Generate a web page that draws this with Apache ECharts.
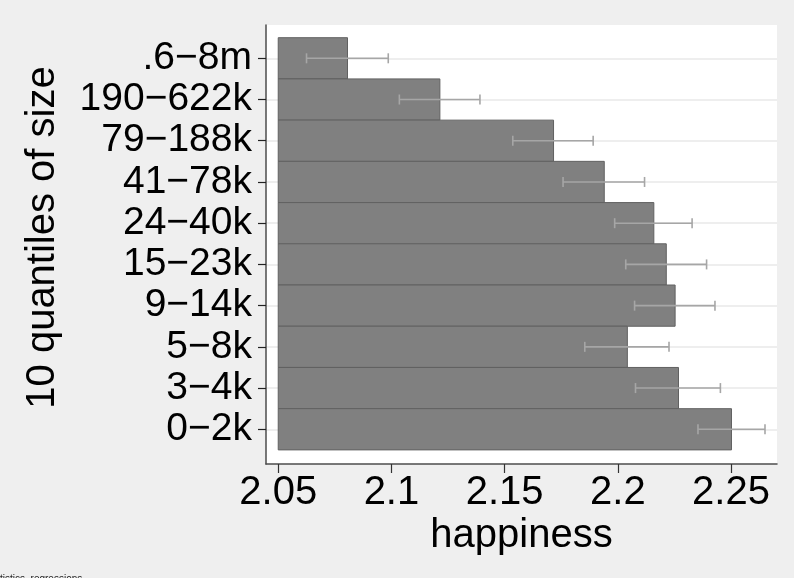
<!DOCTYPE html>
<html>
<head>
<meta charset="utf-8">
<script src="https://cdn.jsdelivr.net/npm/echarts@6/dist/echarts.min.js"></script>
<style>
html,body{margin:0;padding:0;background:#efefef;}
#chart{width:794px;height:578px;}
</style>
</head>
<body>
<div id="chart"></div>
<script>
// Categories, top to bottom as shown
const categories = ['.6\u22128m','190\u2212622k','79\u2212188k','41\u221278k','24\u221240k','15\u221223k','9\u221214k','5\u22128k','3\u22124k','0\u22122k'];
// Mean happiness per category
const means = [2.0806, 2.1214, 2.1716, 2.1940, 2.2159, 2.2214, 2.2253, 2.2042, 2.2268, 2.2502];
// Confidence interval bounds
const lower = [2.0625, 2.1035, 2.1536, 2.1758, 2.1986, 2.2035, 2.2074, 2.1854, 2.2078, 2.2354];
const upper = [2.0986, 2.1391, 2.1891, 2.2118, 2.2328, 2.2392, 2.2429, 2.2226, 2.2453, 2.2650];
// x tick labels
const xTicks = [2.05, 2.1, 2.15, 2.2, 2.25];
const barBase = 2.05;

const n = categories.length;
const pos = categories.map((c, k) => n - 1 - k); // vertical position index (0 = bottom)
const yTicks = pos.slice().sort((a, b) => a - b);

const barData = means.map((m, k) => [barBase, m, pos[k]]);
const errData = lower.map((l, k) => [l, upper[k], pos[k]]);

const chart = echarts.init(document.getElementById('chart'), null, {renderer: 'canvas'});
const FONT = '"Liberation Sans", Arial, Helvetica, sans-serif';

chart.setOption({
  backgroundColor: '#efefef',
  animation: false,
  textStyle: {fontFamily: FONT},
  grid: {
    left: 266, top: 25, width: 511, height: 439,
    show: true, backgroundColor: '#ffffff', borderWidth: 0,
    outerBoundsMode: 'none'
  },
  xAxis: {
    type: 'value',
    min: 2.0446, max: 2.2703,
    name: 'happiness',
    nameLocation: 'middle',
    nameGap: 52,
    nameMoveOverlap: false,
    nameTextStyle: {fontSize: 40, color: '#000', fontFamily: FONT},
    axisLine: {show: true, onZero: false, lineStyle: {color: '#4d4d4d', width: 1.5}},
    axisTick: {show: true, length: 9, customValues: xTicks, lineStyle: {color: '#333', width: 1.2}},
    axisLabel: {customValues: xTicks, fontSize: 40, color: '#000', margin: 9, fontFamily: FONT,
      formatter: v => String(v)},
    splitLine: {show: false}
  },
  yAxis: {
    type: 'value',
    min: -0.842, max: 9.808,
    name: '10 quantiles of size',
    nameLocation: 'middle',
    nameRotate: 90,
    nameGap: 203,
    nameMoveOverlap: false,
    nameTextStyle: {fontSize: 40, color: '#000', fontFamily: FONT, padding: [0, 0, 0, 14]},
    axisLine: {show: true, onZero: false, lineStyle: {color: '#4d4d4d', width: 1.5}},
    axisTick: {show: true, length: 8, customValues: yTicks, lineStyle: {color: '#222', width: 1.2}},
    axisLabel: {customValues: yTicks, fontSize: 39, color: '#000', margin: 14, fontFamily: FONT,
      formatter: v => categories[n - 1 - Math.round(v)]},
    splitLine: {show: true, lineStyle: {color: '#e8e8e8', width: 1.5}}
  },
  series: [
    {
      type: 'custom',
      name: 'bars',
      data: barData,
      encode: {x: [0, 1], y: 2},
      renderItem: function (params, api) {
        const y = api.value(2);
        const p0 = api.coord([api.value(0), y]);
        const p1 = api.coord([api.value(1), y]);
        const h = api.size([0, 1])[1];
        return {
          type: 'rect',
          shape: {x: p0[0], y: p0[1] - h / 2, width: p1[0] - p0[0], height: h},
          style: {fill: '#808080', stroke: '#616161', lineWidth: 1}
        };
      },
      z: 2
    },
    {
      type: 'custom',
      name: 'ci',
      data: errData,
      encode: {x: [0, 1], y: 2},
      renderItem: function (params, api) {
        const y = api.value(2);
        const a = api.coord([api.value(0), y]);
        const b = api.coord([api.value(1), y]);
        const c = 5;
        const st = {stroke: '#a6a6a6', lineWidth: 1.6};
        return {
          type: 'group',
          children: [
            {type: 'line', shape: {x1: a[0], y1: a[1], x2: b[0], y2: b[1]}, style: st},
            {type: 'line', shape: {x1: a[0], y1: a[1] - c, x2: a[0], y2: a[1] + c}, style: st},
            {type: 'line', shape: {x1: b[0], y1: b[1] - c, x2: b[0], y2: b[1] + c}, style: st}
          ]
        };
      },
      z: 3
    }
  ],
  graphic: [
    {type: 'text', left: 0, top: 574, style: {text: 'tistics_regressions', fontSize: 10, fill: '#222', fontFamily: FONT}}
  ]
});
</script>
</body>
</html>
